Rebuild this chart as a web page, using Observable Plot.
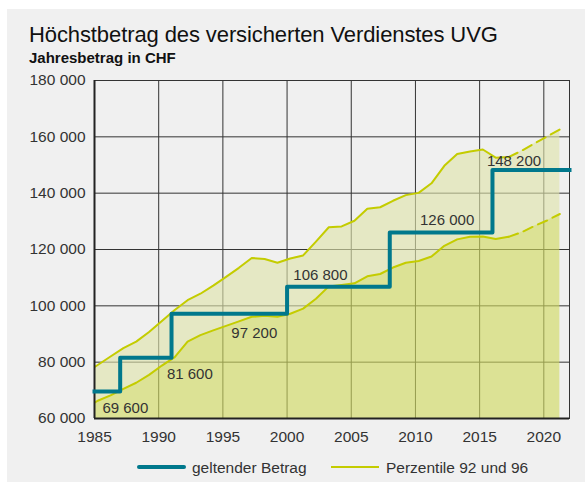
<!DOCTYPE html>
<html>
<head>
<meta charset="utf-8">
<script src="https://cdn.jsdelivr.net/npm/d3@7"></script>
<script src="https://cdn.jsdelivr.net/npm/@observablehq/plot@0.6"></script>
<style>
  html, body { margin: 0; padding: 0; background: #ffffff; }
  body { width: 585px; height: 482px; position: relative; overflow: hidden;
         font-family: "Liberation Sans", Arial, Helvetica, sans-serif; }
  #panel { position: absolute; left: 7px; top: 9px; width: 578px; height: 473px; background: #f0f0f0; }
  #title { position: absolute; left: 29px; top: 24px; font-size: 22px; line-height: 22px; color: #111; white-space: nowrap; letter-spacing: -0.1px; }
  #subtitle { position: absolute; left: 29px; top: 50px; font-size: 15px; line-height: 15px; font-weight: bold; color: #111; white-space: nowrap; }
  #chart { position: absolute; left: 0; top: 60px; }
  #legend { position: absolute; left: 0; top: 458px; width: 585px; height: 20px; font-size: 15.5px; color: #333; }
  .sw { position: absolute; }
  .lt { position: absolute; top: 0; line-height: 20px; white-space: nowrap; }
</style>
</head>
<body>
<div id="panel"></div>
<div id="title">Höchstbetrag des versicherten Verdienstes UVG</div>
<div id="subtitle">Jahresbetrag in CHF</div>
<div id="chart"></div>
<div id="legend">
  <div class="sw" style="left:137px; top:7px; width:49px; height:4px; border-radius:2px; background:#00788c;"></div>
  <div class="lt" style="left:192px;">geltender Betrag</div>
  <div class="sw" style="left:331px; top:8px; width:48px; height:2px; background:#c4cc00;"></div>
  <div class="lt" style="left:386px;">Perzentile 92 und 96</div>
</div>
<script>
// ---- data ----
const years = [1984,1985,1986,1987,1988,1989,1990,1991,1992,1993,1994,1995,1996,1997,1998,1999,
  2000,2001,2002,2003,2004,2005,2006,2007,2008,2009,2010,2011,2012,2013,2014,2015,2016,2017,2018,2019,2020,2021];
const upper = [76000,79000,82000,85000,87300,90700,94600,98500,102000,104300,107200,110300,113500,117000,116600,115300,
  116800,117900,122800,127900,128200,130200,134500,135000,137300,139300,140100,143500,149700,153900,154800,155500,152600,152800,155000,157600,160100,162600];
const lower = [63500,66300,68200,70500,72700,75500,78800,81800,87300,89600,91300,92900,94500,96100,96500,96100,
  97200,99000,102500,106900,107400,108000,110500,111300,113600,115300,115900,117500,121300,123600,124500,124600,123700,124500,126100,128300,130300,132600];
const stepYears = [1985, 1987, 1991, 2000, 2008, 2016, 2022];
const stepValues = [69600, 81600, 97200, 106800, 126000, 148200, 148200];
const xTicks = [1985, 1990, 1995, 2000, 2005, 2010, 2015, 2020];
const yTicks = [60000, 80000, 100000, 120000, 140000, 160000, 180000];
const lastSolidYear = 2017;

// ---- derived tables ----
const perc = years.map((y, i) => ({year: y, lower: lower[i], upper: upper[i]}));
const solid = perc.filter(d => d.year <= lastSolidYear);
const dashed = perc.filter(d => d.year >= lastSolidYear);
const steps = stepYears.map((y, i) => ({year: y, value: stepValues[i]}));
const labels = steps.slice(0, -1).map((d, i) => ({mid: (d.year + steps[i + 1].year) / 2, value: d.value}));
const labelNudge = [[18, 17], [44, 17], [25, 19], [-18, -11], [6, -12], [-17, -9]];

const fmt = d => d3.format(",")(d).replace(/,/g, " ");
const px = d => d.year + 0.25;
const lineColor = "#c4cc00";
const teal = "#00788c";

const marks = [
  Plot.ruleX(xTicks, {stroke: "#333", strokeWidth: 1}),
  Plot.ruleY(yTicks, {stroke: "#333", strokeWidth: 1}),
  Plot.frame({stroke: "#333"}),
  Plot.areaY(perc, {x: px, y1: "lower", y2: "upper", fill: "#dfe3aa", fillOpacity: 0.62, clip: true}),
  Plot.areaY(perc, {x: px, y1: () => 60000, y2: "lower", fill: "#d0da5d", fillOpacity: 0.62, clip: true}),
  Plot.line(solid, {x: px, y: "upper", stroke: lineColor, strokeWidth: 2, clip: true}),
  Plot.line(solid, {x: px, y: "lower", stroke: lineColor, strokeWidth: 2, clip: true}),
  Plot.line(dashed, {x: px, y: "upper", stroke: lineColor, strokeWidth: 2, strokeDasharray: "10,6"}),
  Plot.line(dashed, {x: px, y: "lower", stroke: lineColor, strokeWidth: 2, strokeDasharray: "10,6"}),
  Plot.ruleX([xTicks[0]], {stroke: "#222", strokeWidth: 2}),
  Plot.ruleY([yTicks[0]], {stroke: "#222", strokeWidth: 2}),
  Plot.line(steps, {x: "year", y: "value", curve: "step-after", stroke: teal, strokeWidth: 4, strokeLinecap: "square"}),
  ...labels.map((d, i) => Plot.text([d], {x: "mid", y: "value", text: e => fmt(e.value),
     dx: labelNudge[i][0], dy: labelNudge[i][1], fontSize: 15, fill: "#333"}))
];

const chart = Plot.plot({
  width: 585,
  height: 400,
  marginLeft: 94,
  marginRight: 16,
  marginTop: 20,
  marginBottom: 42,
  style: {background: "transparent", fontFamily: "'Liberation Sans', Arial, Helvetica, sans-serif", fontSize: "15.5px", color: "#333"},
  x: {domain: [1985, 2022], ticks: xTicks, tickFormat: d => String(d), tickSize: 0, tickPadding: 12, label: null, line: false},
  y: {domain: [60000, 180000], ticks: yTicks, tickFormat: fmt, tickSize: 0, tickPadding: 9, label: null, line: false},
  marks
});
document.getElementById("chart").appendChild(chart);
</script>
</body>
</html>
